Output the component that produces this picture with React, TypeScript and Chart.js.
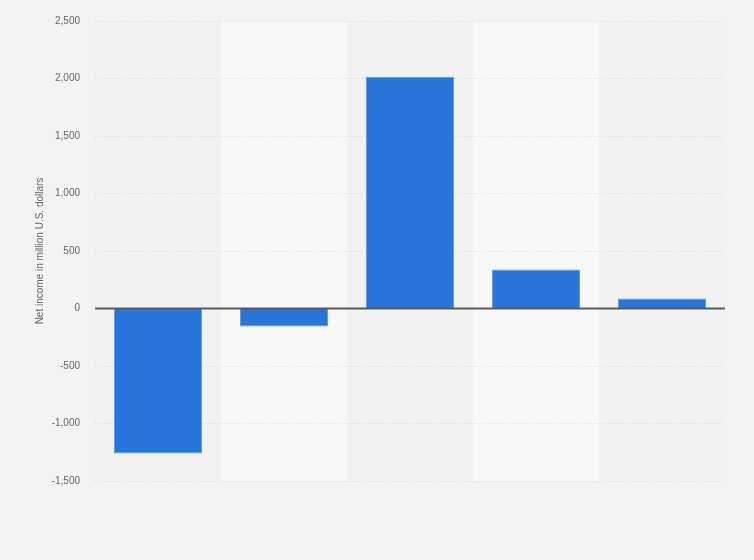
import React, { useEffect, useRef } from "react";
import { Chart, registerables } from "chart.js";

Chart.register(...registerables);

const categories = ["A", "B", "C", "D", "E"];
const netIncome = [-1260, -156, 2015, 340, 88];
const yMin = -1500;
const yMax = 2500;
const yStep = 500;
const yTitle = "Net income in million U.S. dollars";

const bandsPlugin = {
  id: "bands",
  beforeDraw(chart: any) {
    const { ctx, chartArea, scales } = chart;
    ctx.save();
    ctx.fillStyle = "#f3f3f3";
    ctx.fillRect(0, 0, chart.width, chart.height);
    const xs = scales.x;
    const n = categories.length;
    const w = (chartArea.right - chartArea.left) / n;
    for (let i = 0; i < n; i++) {
      const cx = xs.getPixelForValue(i);
      ctx.fillStyle = i % 2 === 1 ? "#f8f8f8" : "#f2f2f2";
      ctx.fillRect(cx - w / 2, chartArea.top, w, chartArea.bottom - chartArea.top);
    }
    ctx.restore();
  },
  afterDatasetsDraw(chart: any) {
    const { ctx, chartArea, scales } = chart;
    const y = scales.y.getPixelForValue(0);
    ctx.save();
    ctx.strokeStyle = "#5a5a5a";
    ctx.lineWidth = 2;
    ctx.beginPath();
    ctx.moveTo(chartArea.left, y);
    ctx.lineTo(chartArea.right, y);
    ctx.stroke();
    ctx.restore();
  },
};

export default function App() {
  const ref = useRef<HTMLCanvasElement | null>(null);
  useEffect(() => {
    document.body.style.margin = "0";
    const chart = new Chart(ref.current as HTMLCanvasElement, {
      type: "bar",
      data: {
        labels: categories,
        datasets: [
          {
            data: netIncome,
            backgroundColor: "#2775db",
            borderColor: "#5a98e6",
            borderWidth: 1,
            barPercentage: 0.7,
            categoryPercentage: 1,
          },
        ],
      },
      options: {
        animation: false,
        responsive: false,
        layout: { padding: { top: 19, bottom: 79, right: 29, left: 0 } },
        plugins: { legend: { display: false }, tooltip: { enabled: false } },
        scales: {
          x: { display: false },
          y: {
            min: yMin,
            max: yMax,
            afterFit(scale: any) {
              scale.width = 95;
            },
            ticks: {
              stepSize: yStep,
              padding: 15,
              color: "#666",
              font: { family: "'Liberation Sans', Arial, sans-serif", size: 10 },
              callback: (v: any) => Number(v).toLocaleString("en-US"),
            },
            grid: {
              drawTicks: false,
              color: (c: any) => (c.tick && c.tick.value === 0 ? "rgba(0,0,0,0)" : "#d6d6d6"),
              lineWidth: 1,
            },
            border: { display: false, dash: [1, 2] },
            title: {
              display: true,
              text: yTitle,
              color: "#666",
              font: { family: "'Liberation Sans', Arial, sans-serif", size: 10 },
              padding: { top: 34, bottom: 0 },
            },
          },
        },
      },
      plugins: [bandsPlugin],
    });
    return () => chart.destroy();
  }, []);
  return (
    <div style={{ width: 754, height: 560 }}>
      <canvas ref={ref} width={754} height={560} style={{ display: "block" }} />
    </div>
  );
}
